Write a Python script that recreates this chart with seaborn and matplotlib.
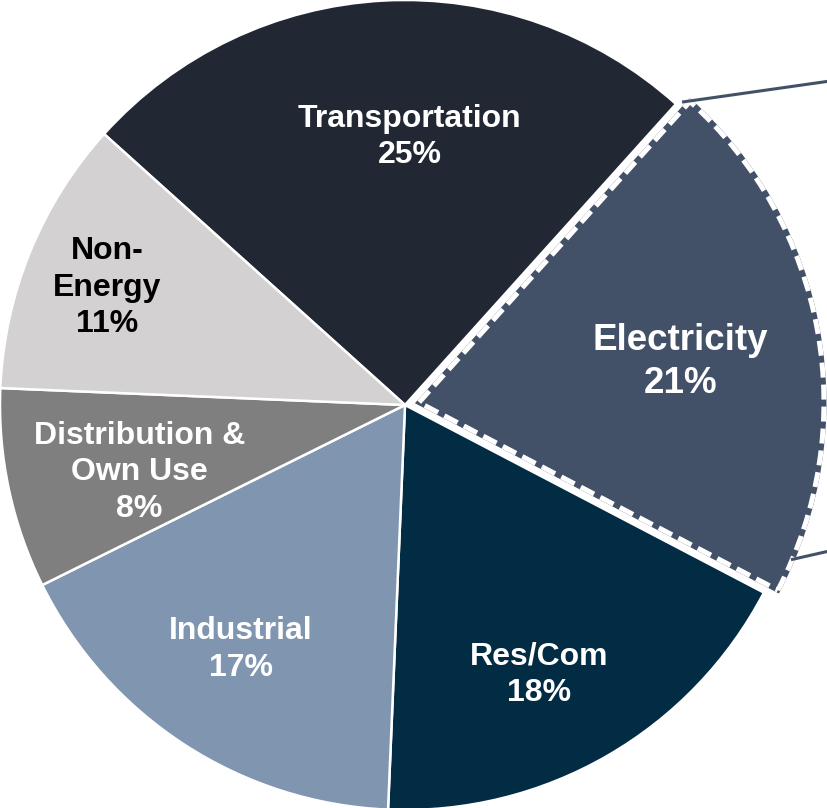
import matplotlib
matplotlib.use("Agg")
import matplotlib.pyplot as plt
import seaborn as sns
from matplotlib.patches import Wedge
import numpy as np

# ---- data ----
categories = ["Transportation", "Electricity", "Res/Com", "Industrial",
              "Distribution &\nOwn Use", "Non-\nEnergy"]
shares = [25, 21, 18, 17, 8, 11]
colors = ["#222833", "#435168", "#022B44", "#8096B0", "#7F7F7F", "#D3D1D2"]
text_colors = ["white", "white", "white", "white", "white", "black"]

# ---- layout (data units, pie radius = 1) ----
label_pos = [(0.012, 0.662), (0.680, 0.106), (0.331, -0.666),
             (-0.405, -0.604), (-0.656, -0.166), (-0.735, 0.290)]
label_size = [23, 26.5, 23, 23, 23, 23]
explode = [0, 0.035, 0, 0, 0, 0]
connectors = [((0.684, 0.748), (1.05, 0.80)),
              ((0.953, -0.382), (1.05, -0.36))]

sns.set_theme(style="white")
plt.rcParams["font.family"] = ["Liberation Sans", "DejaVu Sans"]

fig = plt.figure(figsize=(8.28, 8.08), dpi=100)
ax = fig.add_axes([0, 0, 1, 1])

wedges, _ = ax.pie(shares, colors=colors, startangle=138, counterclock=False,
                   explode=explode, radius=1,
                   wedgeprops=dict(edgecolor="white", linewidth=1.8))

# highlighted slice: slate solid border + white dashed overlay
hw = wedges[1]
hw.set_edgecolor(colors[1])
hw.set_linewidth(3.6)
hw.set_zorder(3)
overlay = Wedge(hw.center, hw.r, hw.theta1, hw.theta2, fill=False,
                edgecolor="white", linewidth=3.6,
                linestyle=(0, (3.0, 1.4)), zorder=4)
ax.add_patch(overlay)

for (p0, p1) in connectors:
    ax.plot([p0[0], p1[0]], [p0[1], p1[1]], color=colors[1], lw=2.2,
            solid_capstyle="butt", zorder=5)

for cat, v, pos, tc, fs in zip(categories, shares, label_pos, text_colors, label_size):
    ax.text(pos[0], pos[1], f"{cat}\n{v}%", ha="center", va="center",
            color=tc, fontsize=fs, fontweight="bold", linespacing=1.29,
            zorder=6)

ax.set_aspect("auto")
ax.set_xlim(-1.0, 828 / 405 - 1.0)
ax.set_ylim(-(808 - 405) / 405, 1.0)
ax.axis("off")

fig.savefig("out.png", dpi=100, facecolor="white")
